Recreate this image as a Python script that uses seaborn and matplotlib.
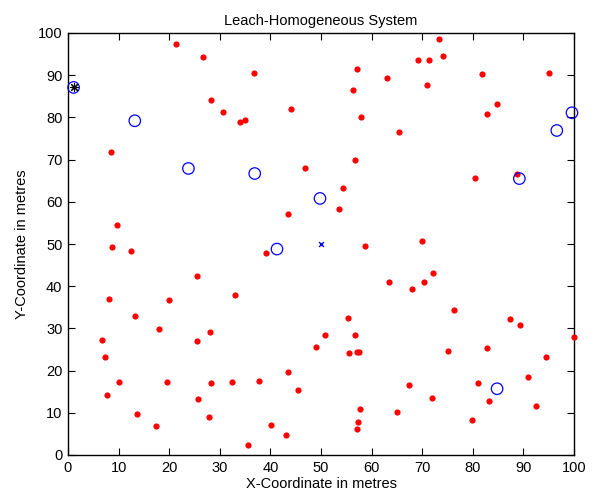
import matplotlib
matplotlib.use("Agg")
import matplotlib.pyplot as plt
import seaborn as sns
import pandas as pd

# Normal nodes (red dots)
node_x = [21.3, 26.6, 36.8, 28.2, 30.6, 34.0, 34.9, 44.1, 8.5, 46.9, 43.4, 9.6,
          73.4, 69.2, 71.4, 74.1, 57.1, 63.0, 56.4, 70.9, 81.9, 95.0, 84.7, 82.8, 58.0, 65.5,
          56.8, 54.3, 53.6, 80.5, 88.8, 70.0, 58.6,
          8.7, 12.4, 39.1, 25.4, 33.1, 8.2, 19.9, 13.3, 17.9, 28.0, 6.8, 25.4, 7.3, 49.0,
          43.4, 10.0, 19.5, 28.3, 32.4, 37.7, 7.7, 45.5, 25.7, 13.7, 27.8, 17.4, 40.2, 43.0, 35.6,
          63.5, 70.4, 72.1, 67.9, 76.2, 55.4, 87.3, 89.4, 50.8, 56.8, 55.6, 57.2, 57.6, 75.1,
          82.9, 100.0, 94.4, 91.0, 81.1, 67.4, 72.0, 83.3, 92.4, 57.8, 65.1, 79.9, 57.3, 57.1]
node_y = [97.3, 94.4, 90.6, 84.2, 81.2, 78.9, 79.4, 82.1, 71.8, 68.0, 57.2, 54.6,
          98.5, 93.7, 93.7, 94.6, 91.4, 89.4, 86.5, 87.6, 90.3, 90.6, 83.2, 80.9, 80.0, 76.5,
          69.8, 63.3, 58.4, 65.6, 66.6, 50.8, 49.5,
          49.2, 48.4, 47.8, 42.5, 37.8, 37.0, 36.7, 32.9, 29.9, 29.1, 27.3, 27.0, 23.2, 25.5,
          19.7, 17.3, 17.3, 17.0, 17.3, 17.6, 14.1, 15.3, 13.2, 9.7, 9.1, 6.8, 7.1, 4.75, 2.4,
          41.0, 41.0, 43.2, 39.3, 34.3, 32.5, 32.2, 30.8, 28.4, 28.4, 24.1, 24.3, 24.3, 24.6,
          25.3, 27.9, 23.2, 18.5, 17.0, 16.5, 13.5, 12.7, 11.5, 10.8, 10.3, 8.2, 7.9, 6.2]

# Cluster heads (blue circles)
ch_x = [1.1, 13.2, 23.8, 36.9, 49.8, 99.6, 96.6, 89.2, 41.3, 84.8]
ch_y = [87.1, 79.2, 67.9, 66.7, 60.8, 81.1, 76.9, 65.5, 48.8, 15.7]

# Special markers
star_x = [1.1]
star_y = [87.1]
sink_x = [50.0]
sink_y = [50.0]

title = "Leach-Homogeneous System"
xlabel = "X-Coordinate in metres"
ylabel = "Y-Coordinate in metres"
ticks = [0, 10, 20, 30, 40, 50, 60, 70, 80, 90, 100]

sns.set_theme(style="white")
plt.rcParams["font.family"] = ["Liberation Sans", "DejaVu Sans"]
plt.rcParams["xtick.direction"] = "in"
plt.rcParams["ytick.direction"] = "in"

fig = plt.figure(figsize=(5.94, 4.97), dpi=100)
ax = fig.add_axes([68/594, 1-455/497, (574-68)/594, (455-33)/497])

nodes = pd.DataFrame({"x": node_x, "y": node_y})
chs = pd.DataFrame({"x": ch_x, "y": ch_y})

sns.scatterplot(data=nodes, x="x", y="y", ax=ax, color="red", s=20, linewidth=0,
                zorder=3, clip_on=False)
sns.scatterplot(data=chs, x="x", y="y", ax=ax, marker="o", s=68, facecolor="none",
                edgecolor="blue", linewidth=0.9, zorder=4, clip_on=False)
sns.scatterplot(x=star_x, y=star_y, ax=ax, marker=(8, 2, 0), s=32, color="black",
                edgecolor="black", linewidth=0.8, zorder=5, clip_on=False)
sns.scatterplot(x=sink_x, y=sink_y, ax=ax, marker="x", s=12, color="blue",
                linewidth=1.0, zorder=5)

ax.set_xlim(0, 100)
ax.set_ylim(0, 100)
ax.set_xticks(ticks)
ax.set_yticks(ticks)
ax.set_xticklabels([str(t) for t in ticks])
ax.set_yticklabels([str(t) for t in ticks])
ax.tick_params(axis="both", direction="in", length=5, width=0.8, color="black",
               labelsize=10.5, labelcolor="black", top=True, right=True,
               bottom=True, left=True, pad=4)
for sp in ax.spines.values():
    sp.set_visible(True)
    sp.set_color("black")
    sp.set_linewidth(1.0)
    sp.set_zorder(2)
ax.set_title(title, fontsize=10.5, color="black", pad=6)
ax.set_xlabel(xlabel, fontsize=10.5, color="black", labelpad=2)
ax.set_ylabel(ylabel, fontsize=10.5, color="black", labelpad=6)
ax.set_facecolor("white")
fig.patch.set_facecolor("white")

fig.savefig("out.png", dpi=100, facecolor="white")
